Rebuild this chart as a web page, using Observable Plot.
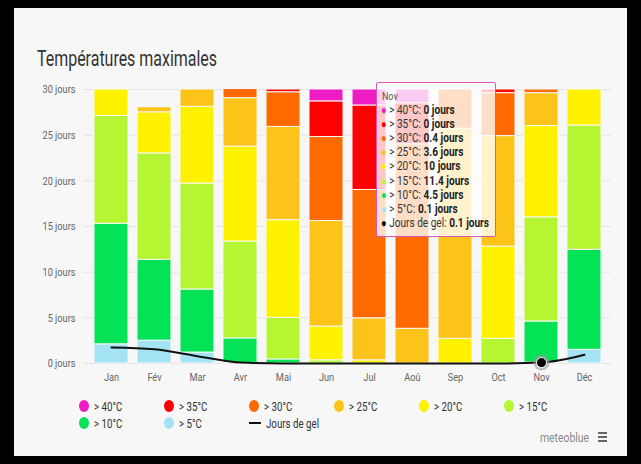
<!DOCTYPE html>
<html>
<head>
<meta charset="utf-8">
<script src="https://cdn.jsdelivr.net/npm/d3@7"></script>
<script src="https://cdn.jsdelivr.net/npm/@observablehq/plot@0.6"></script>
<style>
  html, body { margin: 0; padding: 0; background: #000; width: 641px; height: 464px; overflow: hidden; }
  body { font-family: Roboto, "Liberation Sans", sans-serif; }
  #panel { position: absolute; left: 14px; top: 8px; width: 613px; height: 448px; background: #f7f7f7; }
  #title { position: absolute; left: 37px; top: 46px; font-size: 22px; color: #333; white-space: nowrap; transform-origin: 0 50%; }
  #chart { position: absolute; left: 20px; top: 80px; }
  #tip { position: absolute; left: 376px; top: 82px; width: 118px; height: 153px; background: rgba(255,255,255,0.78);
         border: 1px solid #e054b4; border-radius: 2px; font-size: 13px; color: #333; }
  #tip .hd { position: absolute; left: 5px; top: 7px; font-size: 10.5px; color: #555; transform-origin: 0 50%; transform: scaleX(0.85); }
  #tip .row { position: absolute; left: 4px; white-space: nowrap; transform-origin: 0 50%; line-height: 14px; }
  #tip b { color: #222; }
  .leg { position: absolute; font-size: 13px; color: #333; white-space: nowrap; }
  .leg .sw { display: inline-block; width: 10px; height: 12px; border-radius: 50%; vertical-align: -1px; margin-right: 5px; }
  .leg .ln { display: inline-block; width: 12px; height: 2px; background: #111; vertical-align: 4px; margin-right: 5px; }
  .leg .tx { display: inline-block; transform-origin: 0 50%; }
  #brand { position: absolute; left: 540px; top: 431px; font-size: 12px; color: #888; white-space: nowrap; transform-origin: 0 50%; }
  #burger { position: absolute; left: 598px; top: 432px; width: 9px; }
  #burger div { height: 2px; background: #666; margin-bottom: 2px; }
</style>
</head>
<body>
<div id="panel"></div>
<div id="title">Températures maximales</div>
<div id="chart"></div>
<div id="legend"></div>
<div id="tip"></div>
<div id="brand">meteoblue</div>
<div id="burger"><div></div><div></div><div></div></div>
<script>
const months = ["Jan","Fév","Mar","Avr","Mai","Jun","Jul","Aoû","Sep","Oct","Nov","Déc"];
const seriesNames = ["> 5°C","> 10°C","> 15°C","> 20°C","> 25°C","> 30°C","> 35°C","> 40°C"];
const seriesColors = ["#a3e3f3","#04e356","#b6f532","#fff200","#fcc418","#ff6a00","#ff0000","#ee1cc3"];
const gt5  = [2.1, 2.5, 1.2, 0.05, 0, 0, 0, 0, 0, 0, 0.1, 1.5];
const gt10 = [13.2, 8.85, 6.9, 2.7, 0.45, 0, 0, 0, 0, 0, 4.5, 10.95];
const gt15 = [11.8, 11.65, 11.6, 10.6, 4.55, 0.35, 0, 0, 0, 2.7, 11.4, 13.6];
const gt20 = [2.9, 4.5, 8.4, 10.4, 10.7, 3.7, 0.35, 0, 2.7, 10.1, 10, 3.95];
const gt25 = [0, 0.55, 1.9, 5.3, 10.2, 11.55, 4.6, 3.8, 23.0, 12.1, 3.6, 0];
const gt30 = [0, 0, 0, 1.0, 3.8, 9.2, 14.05, 20.2, 4.3, 4.7, 0.4, 0];
const gt35 = [0, 0, 0, 0, 0.3, 3.9, 9.25, 4.5, 0, 0.4, 0, 0];
const gt40 = [0, 0, 0, 0, 0, 1.3, 1.75, 1.5, 0, 0, 0, 0];
const frost = [1.75, 1.55, 0.8, 0.1, 0, 0, 0, 0, 0, 0, 0.1, 0.95];
const yTicks = [0, 5, 10, 15, 20, 25, 30];
const hoverMonth = "Nov";

const seriesValues = [gt5, gt10, gt15, gt20, gt25, gt30, gt35, gt40];
const table = [];
seriesNames.forEach((s, i) => months.forEach((m, j) => table.push({month: m, series: s, value: seriesValues[i][j]})));
const frostData = months.map((m, j) => ({month: m, value: frost[j]}));

function fitWidth(el, target) {
  el.style.transform = "none";
  const w = el.getBoundingClientRect().width;
  const k = target / w;
  el.style.transform = `scaleX(${k})`;
  return k;
}

const chart = Plot.plot({
  width: 601,
  height: 310,
  marginLeft: 63,
  marginRight: 10,
  marginTop: 9,
  marginBottom: 27,
  style: {background: "transparent", fontFamily: "Roboto, sans-serif", fontSize: "11.5px", color: "#666"},
  x: {domain: months, paddingInner: 0.22, paddingOuter: 0.22, label: null, tickSize: 0, tickPadding: 9},
  y: {domain: [0, 30], ticks: yTicks, tickFormat: d => d + " jours", label: null, tickSize: 0, tickPadding: 8},
  color: {domain: seriesNames, range: seriesColors},
  marks: [
    Plot.gridY(yTicks, {stroke: "#e4e4e4", strokeOpacity: 1}),
    Plot.barY(table, {x: "month", y: "value", fill: "series", stroke: "#f7f7f7", strokeWidth: 1}),
    Plot.line(frostData, {x: "month", y: "value", stroke: "#111", strokeWidth: 2, curve: "monotone-x"}),
    Plot.dot(frostData.filter(d => d.month === hoverMonth), {x: "month", y: "value", r: 8, fill: "#999", fillOpacity: 0.6}),
    Plot.dot(frostData.filter(d => d.month === hoverMonth), {x: "month", y: "value", r: 5, fill: "#000", stroke: "#fff", strokeWidth: 1})
  ]
});
document.getElementById("chart").appendChild(chart);
// condense axis labels (narrow font look)
d3.select(chart).selectAll("g[aria-label='y-axis tick label'] text, g[aria-label='x-axis tick label'] text")
  .attr("transform", function() { return (this.getAttribute("transform") || "") + " scale(0.8,1)"; });

fitWidth(document.getElementById("title"), 180);
fitWidth(document.getElementById("brand"), 49);

// tooltip
const tip = document.getElementById("tip");
const hi = months.indexOf(hoverMonth);
tip.innerHTML = `<div class="hd">${hoverMonth}</div>`;
const rows = [];
for (let i = seriesNames.length - 1; i >= 0; i--) rows.push({c: seriesColors[i], n: seriesNames[i], v: seriesValues[i][hi]});
rows.push({c: "#000", n: "Jours de gel", v: frost[hi]});
const rowEls = rows.map((r, k) => {
  const d = document.createElement("div");
  d.className = "row";
  d.style.top = (20 + k * 14.1) + "px";
  d.innerHTML = `<span style="color:${r.c};font-size:12px">●</span> ${r.n}: <b>${r.v} jours</b>`;
  tip.appendChild(d);
  return d;
});
const kt = fitWidth(rowEls[rowEls.length - 1], 108);
rowEls.forEach(e => e.style.transform = `scaleX(${kt})`);

// legend
const leg = document.getElementById("legend");
const items = seriesNames.map((n, i) => ({n, c: seriesColors[i]})).reverse();
items.push({n: "Jours de gel", line: true});
const txEls = [];
items.forEach((it, k) => {
  const col = k % 6, row = Math.floor(k / 6);
  const d = document.createElement("div");
  d.className = "leg";
  d.style.left = (79 + col * 85) + "px";
  d.style.top = (399 + row * 17) + "px";
  d.innerHTML = (it.line ? `<span class="ln"></span>` : `<span class="sw" style="background:${it.c}"></span>`) + `<span class="tx">${it.n}</span>`;
  leg.appendChild(d);
  txEls.push(d.querySelector(".tx"));
});
const kl = fitWidth(txEls[txEls.length - 1], 53);
txEls.forEach(e => e.style.transform = `scaleX(${kl})`);
</script>
</body>
</html>
